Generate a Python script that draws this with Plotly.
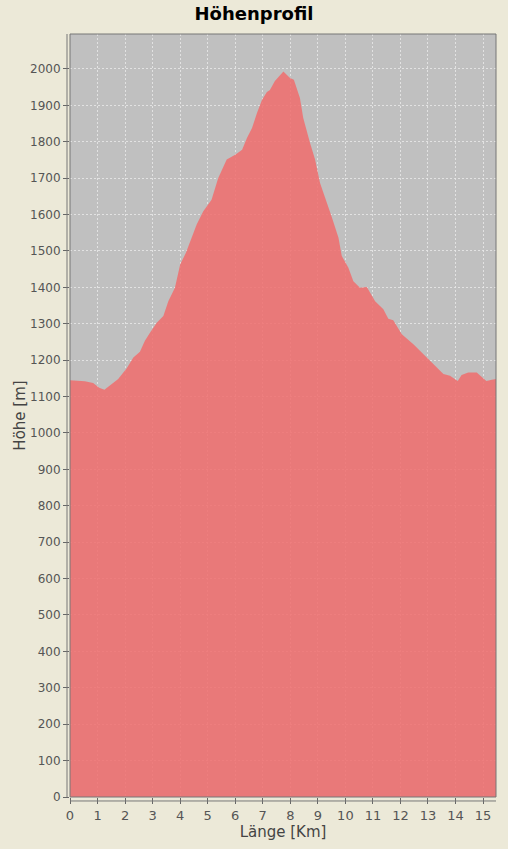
import plotly.graph_objects as go

distance_km = [0.0, 0.54, 0.84, 1.06, 1.25, 1.51, 1.75, 2.06, 2.3, 2.54, 2.72, 2.91, 3.15, 3.39, 3.57, 3.81, 4.0, 4.21, 4.42, 4.6, 4.84, 5.14, 5.38, 5.69, 6.0, 6.25, 6.43, 6.61, 6.79, 6.97, 7.15, 7.26, 7.44, 7.75, 7.99, 8.13, 8.35, 8.47, 8.72, 8.9, 9.08, 9.26, 9.5, 9.75, 9.87, 10.11, 10.29, 10.53, 10.78, 10.9, 11.08, 11.38, 11.56, 11.74, 12.05, 12.47, 12.84, 13.08, 13.56, 13.8, 14.08, 14.22, 14.46, 14.77, 15.12, 15.32, 15.47]
elevation_m = [1145, 1142, 1137, 1124, 1119, 1134, 1148, 1178, 1207, 1223, 1253, 1276, 1303, 1321, 1362, 1399, 1463, 1495, 1536, 1573, 1609, 1641, 1700, 1751, 1764, 1778, 1811, 1838, 1879, 1915, 1937, 1942, 1967, 1993, 1975, 1970, 1920, 1865, 1796, 1751, 1687, 1650, 1595, 1536, 1486, 1454, 1417, 1399, 1401, 1385, 1362, 1340, 1314, 1310, 1271, 1244, 1216, 1198, 1162, 1157, 1143, 1159, 1166, 1166, 1143, 1146, 1148]

title_text = "Höhenprofil"
x_title = "Länge [Km]"
y_title = "Höhe [m]"

fill = "rgba(240,110,110,0.86)"

fig = go.Figure()
fig.add_trace(go.Scatter(
    x=distance_km, y=elevation_m, mode="lines", fill="tozeroy",
    line=dict(width=0, color=fill), fillcolor=fill,
    hoverinfo="skip", showlegend=False,
))

fig.update_layout(
    width=508, height=849,
    margin=dict(l=70, r=12, t=34, b=46),
    paper_bgcolor="#ECE9D8", plot_bgcolor="#C0C0C0",
    font=dict(family="DejaVu Sans", size=12, color="#555555"),
    title=dict(text=title_text, x=0.5, xanchor="center", y=0.984, yanchor="middle",
               font=dict(family="DejaVu Sans", size=18, color="#000000", weight="bold")),
)
grid = dict(showgrid=True, gridcolor="rgba(232,232,232,0.85)", griddash="2px,2px", gridwidth=1)
fig.update_xaxes(
    range=[0, 15.47], dtick=1, tick0=0, **grid,
    zeroline=False, showline=False, ticks="outside", ticklen=6, tickcolor="#666666",
    tickfont=dict(size=13, color="#555555"),
    title=dict(text=x_title, font=dict(size=15, color="#444444"), standoff=4),
)
fig.update_yaxes(
    range=[0, 2096], dtick=100, tick0=0, **grid,
    zeroline=False, showline=False, ticks="outside", ticklen=6, tickcolor="#666666",
    tickfont=dict(size=12, color="#555555"),
    title=dict(text=y_title, font=dict(size=15, color="#444444"), standoff=0),
)
# plot border
fig.add_shape(type="rect", xref="paper", yref="paper", x0=0, y0=0, x1=1, y1=1,
              line=dict(color="#777777", width=1), fillcolor="rgba(0,0,0,0)", layer="above")
# offset axis lines
fig.add_shape(type="line", xref="paper", yref="paper", x0=-3/426, x1=-3/426, y0=0, y1=1,
              line=dict(color="#777777", width=1))
fig.add_shape(type="line", xref="paper", yref="paper", x0=0, x1=1, y0=-4/769, y1=-4/769,
              line=dict(color="#777777", width=1))

fig.write_html("out.html", config={"displayModeBar": False},
               post_script="document.body.style.margin='0';document.body.style.background='#ECE9D8';")
